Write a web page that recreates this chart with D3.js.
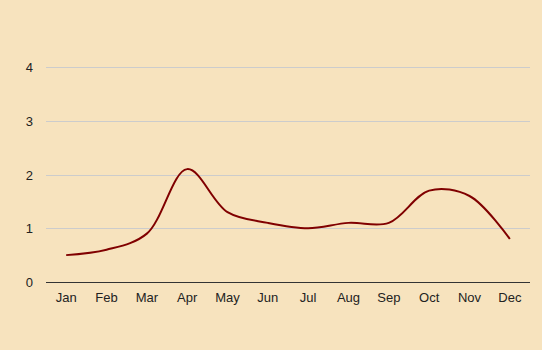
<!DOCTYPE html>
<html>
<head>
<meta charset="utf-8">
<script src="https://cdn.jsdelivr.net/npm/d3@7"></script>
<style>
  body { margin: 0; background: #f7e3be; }
  svg { display: block; }
  text { font-family: Arial, "Liberation Sans", sans-serif; font-size: 13px; fill: #222; }
</style>
</head>
<body>
<div id="chart"></div>
<script>
    let months = ["Jan", "Feb", "Mar", "Apr", "May", "Jun", "Jul", "Aug", "Sep", "Oct", "Nov", "Dec"];
    let values = [0.5, 0.6, 0.9, 2.1, 1.3, 1.1, 1.0, 1.1, 1.1, 1.7, 1.6, 0.8];
    let yTicks = [0, 1, 2, 3, 4];

    let width = 542, height = 350;
    let margin = {top: 67, right: 12, bottom: 68, left: 46};

    let svg = d3.select("#chart").append("svg")
        .attr("width", width)
        .attr("height", height);

    svg.append("rect")
        .attr("width", width).attr("height", height)
        .attr("fill", "#f7e3be");

    let x = d3.scaleBand()
        .domain(months)
        .range([margin.left, width - margin.right]);

    let y = d3.scaleLinear()
        .domain([0, 4])
        .range([height - margin.bottom, margin.top]);

    // gridlines
    svg.append("g")
        .selectAll("line")
        .data(yTicks.filter(d => d > 0))
        .enter().append("line")
        .attr("x1", margin.left)
        .attr("x2", width - margin.right)
        .attr("y1", d => Math.round(y(d)) + 0.5)
        .attr("y2", d => Math.round(y(d)) + 0.5)
        .attr("stroke", "#cccccc")
        .attr("stroke-width", 1);

    // y labels
    svg.append("g")
        .selectAll("text")
        .data(yTicks)
        .enter().append("text")
        .attr("x", 33)
        .attr("y", d => y(d) + 5)
        .attr("text-anchor", "end")
        .text(d => d);

    // x labels
    svg.append("g")
        .selectAll("text")
        .data(months)
        .enter().append("text")
        .attr("x", d => x(d) + x.bandwidth() / 2)
        .attr("y", height - margin.bottom + 20)
        .attr("text-anchor", "middle")
        .text(d => d);

    // line
    let line = d3.line()
        .x((d, i) => x(months[i]) + x.bandwidth() / 2)
        .y(d => y(d))
        .curve(d3.curveCatmullRom.alpha(0.5));

    svg.append("path")
        .datum(values)
        .attr("d", line)
        .attr("fill", "none")
        .attr("stroke", "#800000")
        .attr("stroke-width", 2);

    // baseline
    svg.append("line")
        .attr("x1", margin.left)
        .attr("x2", width - margin.right)
        .attr("y1", Math.round(y(0)) + 0.5)
        .attr("y2", Math.round(y(0)) + 0.5)
        .attr("stroke", "#333")
        .attr("stroke-width", 1);
</script>
</body>
</html>
